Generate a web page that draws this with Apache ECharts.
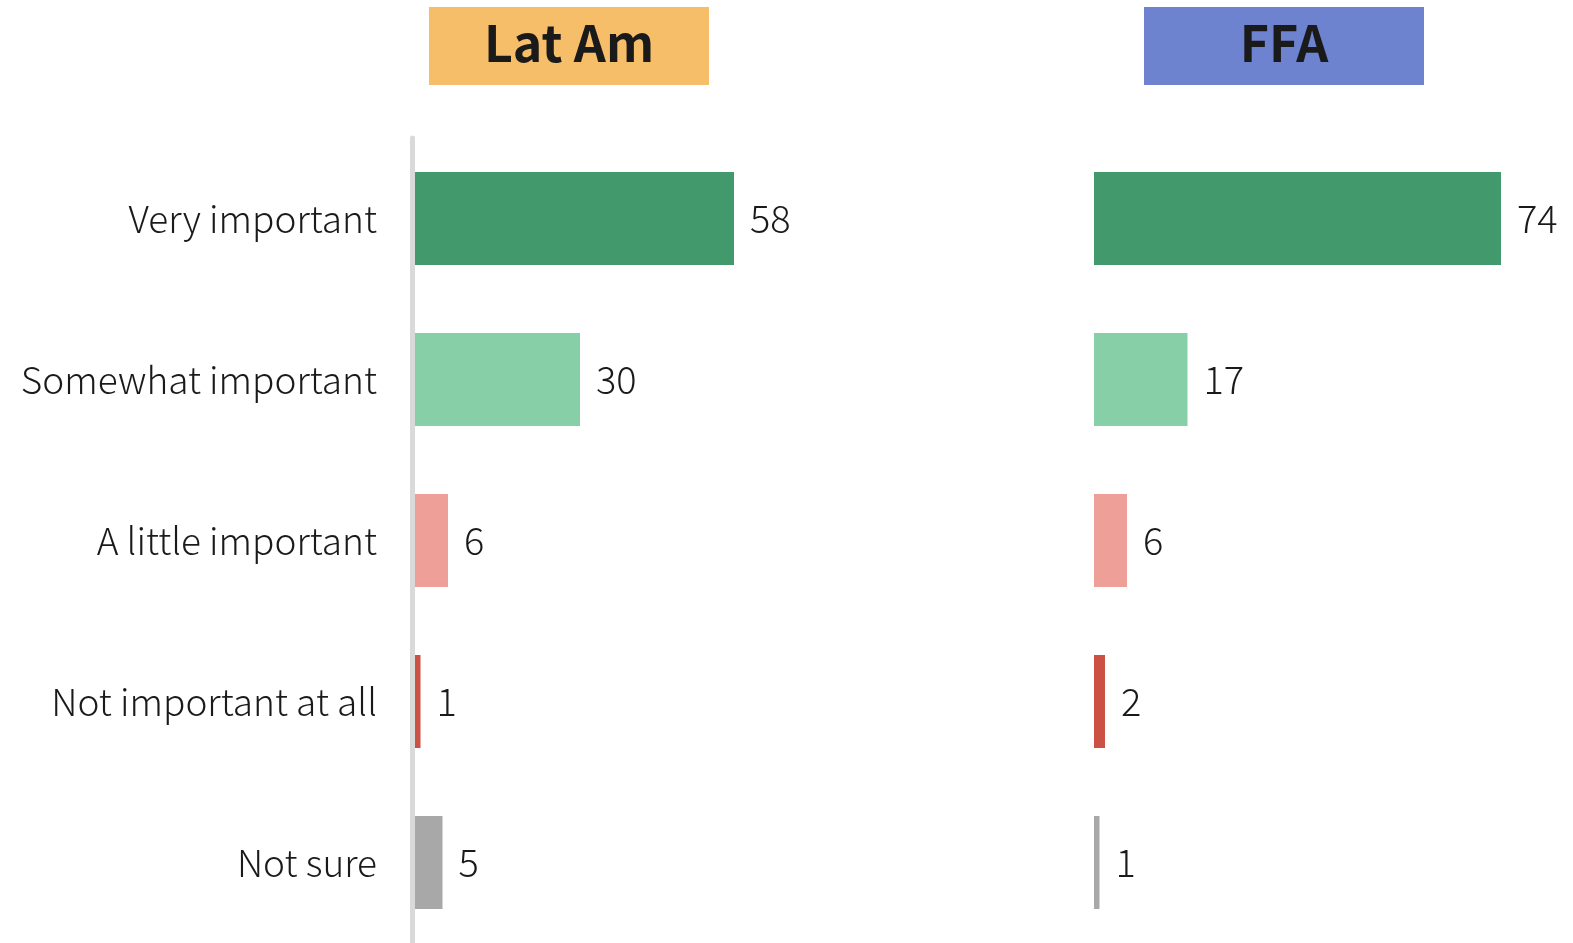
<!DOCTYPE html>
<html>
<head>
<meta charset="utf-8">
<script src="https://cdn.jsdelivr.net/npm/echarts@6/dist/echarts.min.js"></script>
<style>
  html, body { margin: 0; padding: 0; background: #ffffff; }
  #chart { width: 1573px; height: 943px; }
</style>
</head>
<body>
<div id="chart"></div>
<script>
// Survey response categories, top to bottom
const categories = ['Very important', 'Somewhat important', 'A little important', 'Not important at all', 'Not sure'];
// Percent of respondents in each group
const latAmValues = [58, 30, 6, 1, 5];
const ffaValues = [74, 17, 6, 2, 1];
// Group headings
const groupTitles = ['Lat Am', 'FFA'];

const barColors = ['#429a6c', '#86cfa7', '#ee9f98', '#cb5144', '#a8a8a8'];
const titleColors = ['#f7be69', '#6e83cf'];
const FONT = '"Noto Sans CJK JP", "Noto Sans", sans-serif';
const TEXT = '#1a1a1a';

function seriesData(values) {
  return values.map((v, i) => ({ value: v, itemStyle: { color: barColors[i] } }));
}

function barSeries(values, idx) {
  return {
    type: 'bar',
    xAxisIndex: idx,
    yAxisIndex: idx,
    data: seriesData(values),
    barWidth: 93,
    label: {
      show: true,
      position: 'right',
      distance: 16,
      color: TEXT,
      fontFamily: FONT,
      fontWeight: 300,
      fontSize: 38
    },
    silent: true
  };
}

function titleBox(text, left, color) {
  return {
    type: 'group',
    left: left,
    top: 7,
    children: [
      { type: 'rect', shape: { x: 0, y: 0, width: 280, height: 78 }, style: { fill: color } },
      {
        type: 'text',
        x: 140, y: 36,
        style: {
          text: text, fill: TEXT, font: 'bold 50px ' + FONT,
          align: 'center', verticalAlign: 'middle'
        }
      }
    ]
  };
}

const chart = echarts.init(document.getElementById('chart'), null, { renderer: 'canvas' });
chart.setOption({
  animation: false,
  backgroundColor: '#ffffff',
  grid: [
    { left: 415, top: 138, width: 440, height: 807 },
    { left: 1094, top: 138, width: 440, height: 807 }
  ],
  xAxis: [0, 1].map(i => ({
    gridIndex: i, type: 'value', min: 0, max: 80, show: false
  })),
  yAxis: [
    {
      gridIndex: 0, type: 'category', data: categories, inverse: true,
      offset: 3,
      axisLine: { show: true, onZero: false, lineStyle: { color: '#d9d9d9', width: 5 } },
      axisTick: { show: false },
      axisLabel: {
        margin: 35, color: TEXT, fontFamily: FONT, fontWeight: 300, fontSize: 37,
        padding: [0, 0, 10, 0]
      }
    },
    {
      gridIndex: 1, type: 'category', data: categories, inverse: true,
      axisLine: { show: false }, axisTick: { show: false }, axisLabel: { show: false }
    }
  ],
  series: [barSeries(latAmValues, 0), barSeries(ffaValues, 1)],
  graphic: [
    titleBox(groupTitles[0], 429, titleColors[0]),
    titleBox(groupTitles[1], 1144, titleColors[1])
  ]
});
</script>
</body>
</html>
